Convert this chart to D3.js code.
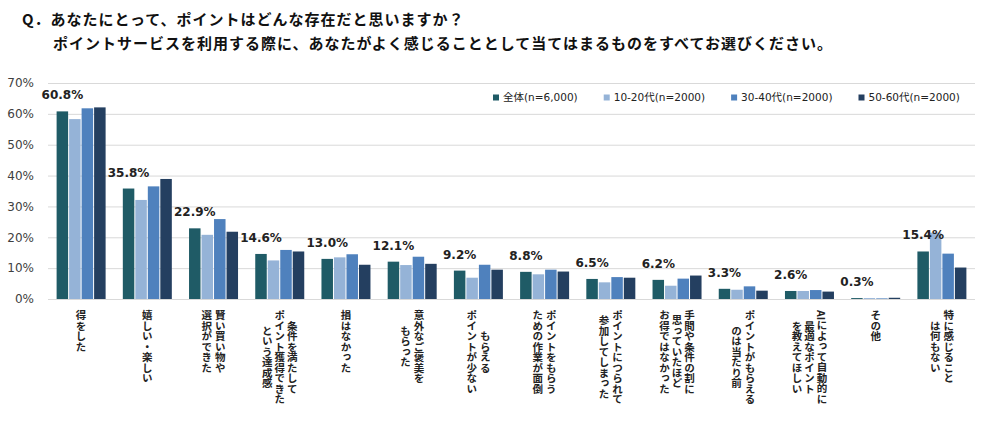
<!DOCTYPE html>
<html>
<head>
<meta charset="utf-8">
<script src="https://cdn.jsdelivr.net/npm/d3@7"></script>
<style>
  body { margin: 0; background: #fff; }
  svg { display: block; }
  .y-axis .domain { display: none; }
  .y-axis .tick line { stroke: #d9d9d9; }
  .y-axis .tick text { font-family: "DejaVu Sans", sans-serif; font-size: 12px; fill: #404040; }
  .cat-label { font-family: "Noto Sans CJK JP", sans-serif; font-weight: bold; font-size: 10.5px; fill: #222;
    writing-mode: vertical-rl; text-anchor: middle; }
</style>
</head>
<body>
<div id="chart"></div>
<script>
// Question text
const titleLines = [
  'Q．あなたにとって、ポイントはどんな存在だと思いますか？',
  'ポイントサービスを利用する際に、あなたがよく感じることとして当てはまるものをすべてお選びください。'
];

// Categories (each entry = columns of vertical text, right to left)
const categories = [
  ['得をした'],
  ['嬉しい・楽しい'],
  ['賢い買い物や', '選択ができた'],
  ['条件を満たして', 'ポイント獲得できた', 'という達成感'],
  ['損はなかった'],
  ['意外なご褒美を', 'もらった'],
  ['もらえる', 'ポイントが少ない'],
  ['ポイントをもらう', 'ための作業が面倒'],
  ['ポイントにつられて', '参加してしまった'],
  ['手間や条件の割に', '思っていたほど', 'お得ではなかった'],
  ['ポイントがもらえる', 'のは当たり前'],
  ['AIによって自動的に', '最適なポイント', 'を教えてほしい'],
  ['その他'],
  ['特に感じること', 'は何もない']
];

const seriesNames = ['全体(n=6,000)', '10-20代(n=2000)', '30-40代(n=2000)', '50-60代(n=2000)'];

// Values in %
const totalValues = [60.8, 35.8, 22.9, 14.6, 13.0, 12.1, 9.2, 8.8, 6.5, 6.2, 3.3, 2.6, 0.3, 15.4];
const age1020Values = [58.3, 32.1, 20.8, 12.5, 13.5, 11.0, 6.9, 8.0, 5.4, 4.3, 3.0, 2.6, 0.3, 21.5];
const age3040Values = [61.8, 36.5, 25.9, 15.9, 14.5, 13.7, 11.1, 9.5, 7.1, 6.6, 4.1, 2.9, 0.2, 14.7];
const age5060Values = [62.1, 38.9, 21.8, 15.4, 11.1, 11.4, 9.5, 8.9, 6.9, 7.6, 2.7, 2.4, 0.4, 10.2];

const yTicks = [0, 10, 20, 30, 40, 50, 60, 70];

const seriesColors = ['#1f5b66', '#95b3d7', '#4f81bd', '#243f60'];

const width = 1000, height = 428;
const margin = { top: 83, right: 25, bottom: 129, left: 48 };

const seriesValues = [totalValues, age1020Values, age3040Values, age5060Values];
const groups = categories.map((c, i) => ({
  index: i,
  lines: c,
  values: seriesValues.map((s, j) => ({ key: j, value: s[i] }))
}));

const svg = d3.select('#chart').append('svg')
  .attr('width', width)
  .attr('height', height);

// Title
svg.append('g')
  .selectAll('text')
  .data(titleLines)
  .join('text')
  .attr('x', (d, i) => i === 0 ? 22 : 53)
  .attr('y', (d, i) => 25 + i * 24)
  .attr('font-family', '"Noto Sans CJK JP", sans-serif')
  .attr('font-weight', 'bold')
  .attr('font-size', 15)
  .attr('letter-spacing', 1)
  .attr('fill', '#111')
  .text(d => d);

// Scales
const x0 = d3.scaleBand()
  .domain(d3.range(categories.length))
  .range([margin.left, width - margin.right])
  .paddingInner(0.26)
  .paddingOuter(0.13);

const x1 = d3.scaleBand()
  .domain(d3.range(seriesNames.length))
  .range([0, x0.bandwidth()])
  .paddingInner(0.08);

const y = d3.scaleLinear()
  .domain([0, 70])
  .range([height - margin.bottom, margin.top]);

// Y axis with gridlines
svg.append('g')
  .attr('class', 'y-axis')
  .attr('transform', `translate(${margin.left},0)`)
  .call(d3.axisLeft(y)
    .tickValues(yTicks)
    .tickFormat(d => d + '%')
    .tickSize(-(width - margin.left - margin.right))
    .tickPadding(14));

// Bars
const group = svg.append('g')
  .selectAll('.group')
  .data(groups)
  .join('g')
  .attr('class', 'group')
  .attr('transform', d => `translate(${x0(d.index)},0)`);

group.selectAll('rect')
  .data(d => d.values)
  .join('rect')
  .attr('x', d => x1(d.key))
  .attr('width', x1.bandwidth())
  .attr('y', d => y(d.value))
  .attr('height', d => y(0) - y(d.value))
  .attr('fill', d => seriesColors[d.key]);

// Value labels for the total series
group.append('text')
  .attr('x', x1(0) + x1.bandwidth() / 2)
  .attr('y', d => y(d.values[0].value) - 12)
  .attr('text-anchor', 'middle')
  .attr('font-family', '"DejaVu Sans", sans-serif')
  .attr('font-weight', 'bold')
  .attr('font-size', 12)
  .attr('fill', '#222')
  .text(d => d.values[0].value.toFixed(1) + '%');

// Vertical category labels
const labelTop = 310;
const labelG = svg.append('g')
  .selectAll('.cat')
  .data(groups)
  .join('g')
  .attr('class', 'cat');

labelG.each(function (d) {
  const g = d3.select(this);
  const n = d.lines.length;
  const spacing = n === 3 ? 12.5 : 13.5;
  const cx = x0(d.index) + x0.bandwidth() / 2;
  const texts = g.selectAll('text')
    .data(d.lines)
    .join('text')
    .attr('class', 'cat-label')
    .attr('x', (l, i) => cx + ((n - 1) / 2 - i) * spacing)
    .attr('y', 0)
    .text(l => l);
  let maxLen = 0;
  texts.each(function () { maxLen = Math.max(maxLen, this.getComputedTextLength()); });
  texts.attr('y', labelTop + maxLen / 2);
});

// Legend
const legend = svg.append('g')
  .attr('transform', 'translate(493,97.5)');
let lx = 0;
seriesNames.forEach((name, i) => {
  const item = legend.append('g').attr('transform', `translate(${lx},0)`);
  item.append('rect')
    .attr('x', 0)
    .attr('y', -3)
    .attr('width', 6)
    .attr('height', 6)
    .attr('fill', seriesColors[i]);
  const t = item.append('text')
    .attr('x', 10)
    .attr('dy', '0.35em')
    .attr('font-family', '"DejaVu Sans", "Noto Sans CJK JP", sans-serif')
    .attr('font-size', 10.5)
    .attr('fill', '#222')
    .text(name);
  lx += 10 + t.node().getComputedTextLength() + 26;
});
</script>
</body>
</html>
